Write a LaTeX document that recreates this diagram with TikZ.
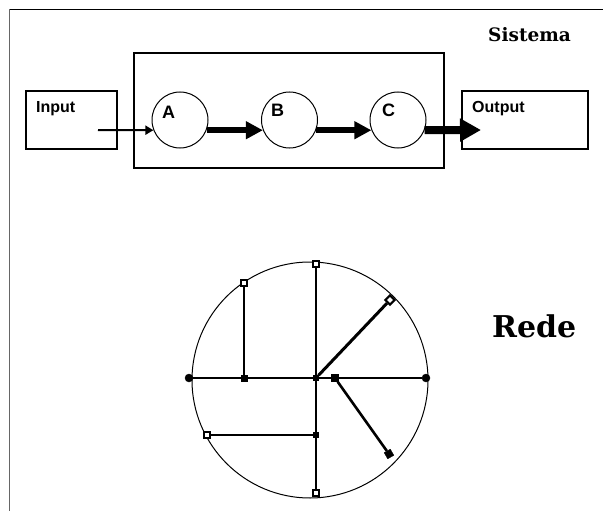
\documentclass[tikz,border=0pt]{standalone}
\usepackage{fontspec}
\setmainfont{DejaVu Serif}
\newfontfamily\labelfont{Liberation Sans}
\usetikzlibrary{arrows.meta}

\tikzset{
  box/.style={draw, line width=1.3pt, inner sep=0pt},
  proc/.style={draw, circle, line width=1pt, minimum size=56pt, inner sep=0pt},
  boxtext/.style={font=\labelfont\bfseries\fontsize{16}{16}\selectfont, inner sep=0pt, anchor=base west},
  proctext/.style={font=\labelfont\bfseries\fontsize{18}{18}\selectfont, inner sep=0pt, anchor=base west},
  title/.style={font=\bfseries, inner sep=0pt, anchor=base west},
  thinflow/.style={line width=2pt, -{Triangle[length=8pt,width=9pt]}},
  thickflow/.style={line width=6pt, -{Triangle[length=17pt,width=17pt]}},
  outflow/.style={line width=8pt, -{Triangle[length=21pt,width=22pt]}},
  openmark/.style={draw, fill=white, line width=2.2pt, rectangle, minimum size=6.5pt, inner sep=0pt},
  fullmark/.style={draw, fill=black, rectangle, minimum size=5pt, inner sep=0pt},
  dotmark/.style={draw, fill=black, circle, minimum size=8pt, inner sep=0pt},
  link/.style={line width=2.6pt},
  thinlink/.style={line width=1.1pt},
}

\begin{document}
\begin{tikzpicture}[x=1pt, y=-1pt]
  \useasboundingbox (0,0) rectangle (603,511);

  % page frame
  \draw[line width=1.2pt] (9.5,9.5) -- (603,9.5);
  \draw[line width=1.4pt, black!60] (9.5,9.5) -- (9.5,511);

  % system block
  \node[title, font=\bfseries\fontsize{18.5}{18.5}\selectfont] (sistema) at (488,41.5) {Sistema};
  \node[box, line width=2pt, minimum width=310pt, minimum height=115pt] (system) at (289,110.5) {};
  \node[box, minimum width=91pt, minimum height=58pt] (input) at (71.5,120) {};
  \node[box, minimum width=126pt, minimum height=58pt] (output) at (525,120) {};
  \node[boxtext] (inputlbl) at (36,113) {Input};
  \node[boxtext] (outputlbl) at (472,113) {Output};

  \node[proc] (A) at (180,120) {};
  \node[proc] (B) at (289.5,120) {};
  \node[proc] (C) at (398,120) {};
  \node[proctext] (Albl) at (162,118) {A};
  \node[proctext] (Blbl) at (271,117) {B};
  \node[proctext] (Clbl) at (382,117) {C};

  \coordinate (inStart) at (98,130);
  \coordinate (outTip) at (481,130);
  \draw[thinflow] (inStart) -- (A.201);
  \draw[thickflow] (A.339) -- (B.201);
  \draw[thickflow] (B.339) -- (C.201);
  \draw[outflow] (C.339) -- (outTip);

  % network
  \node[draw, circle, line width=1pt, minimum size=236pt, inner sep=0pt] (net) at (310,380) {};
  \node[title, font=\bfseries\fontsize{30}{30}\selectfont] (rede) at (492,337) {Rede};

  \node[dotmark] (west) at (189,378) {};
  \node[dotmark] (east) at (426,378) {};
  \node[fullmark, minimum size=5pt] (hub) at (316,378) {};
  \node[fullmark, minimum size=7pt] (side) at (335,378) {};
  \node[openmark] (top) at (316,264) {};
  \node[openmark] (bottom) at (316,493) {};
  \node[openmark] (ultop) at (244,283) {};
  \node[fullmark, minimum size=6pt] (ulbase) at (244,378) {};
  \node[openmark, rotate=45] (diag) at (390,300) {};
  \node[fullmark, minimum size=7pt, rotate=30] (lowright) at (389,454) {};
  \node[openmark] (lowleft) at (207,435) {};
  \node[fullmark, minimum size=5pt] (lowhub) at (316,435) {};

  \draw[thinlink] (west) -- (hub) -- (side) -- (east);
  \draw[link] (top) -- (hub);
  \draw[link] (hub) -- (lowhub) -- (bottom);
  \draw[link] (ultop) -- (ulbase);
  \draw[link, line width=3pt] (hub) -- (diag);
  \draw[link] (side) -- (lowright);
  \draw[link] (lowleft) -- (lowhub);
\end{tikzpicture}
\end{document}
